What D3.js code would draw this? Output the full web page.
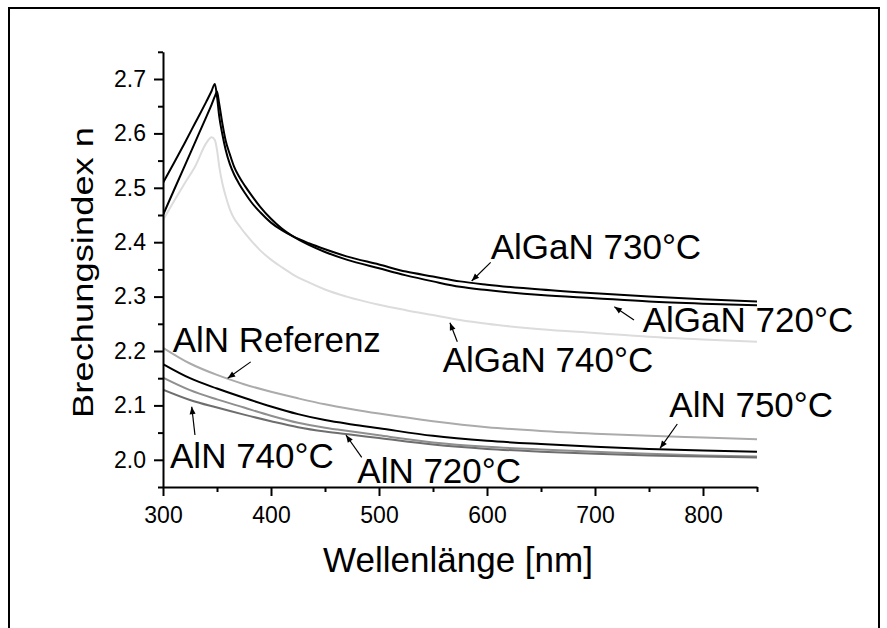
<!DOCTYPE html>
<html>
<head>
<meta charset="utf-8">
<script src="https://cdn.jsdelivr.net/npm/d3@7"></script>
<style>
  html, body { margin: 0; padding: 0; background: #fff; }
  svg { display: block; font-family: "Liberation Sans", Arial, sans-serif; }
</style>
</head>
<body>
<svg id="chart" width="887" height="628"></svg>
<script>
// Refractive index n vs. wavelength for AlGaN and AlN layers

// Wavelength grids [nm]
const wlAlGaN = [300, 310, 320, 330, 340, 345, 348, 350, 352, 355, 358, 362, 366, 370, 376, 382, 390,
                 400, 410, 420, 435, 450, 470, 500, 525, 550, 575, 600, 650, 700, 750, 800, 850];
const wlAlN = [300, 325, 350, 375, 400, 425, 450, 475, 500, 550, 600, 650, 700, 750, 800, 850];

// AlGaN layers
const nAlGaN730 = [2.509, 2.545, 2.582, 2.620, 2.658, 2.678, 2.691, 2.668, 2.632, 2.598, 2.570, 2.543, 2.524,
                   2.509, 2.490, 2.473, 2.455, 2.436, 2.422, 2.411, 2.398, 2.387, 2.374, 2.359, 2.346, 2.337,
                   2.328, 2.322, 2.313, 2.306, 2.300, 2.295, 2.291];
const nAlGaN720 = [2.450, 2.495, 2.540, 2.585, 2.630, 2.653, 2.668, 2.677, 2.655, 2.618, 2.587, 2.561, 2.538,
                   2.522, 2.503, 2.486, 2.465, 2.443, 2.425, 2.411, 2.395, 2.382, 2.368, 2.352, 2.339, 2.328,
                   2.318, 2.312, 2.303, 2.297, 2.291, 2.287, 2.284];
const nAlGaN740 = [2.441, 2.475, 2.508, 2.540, 2.582, 2.593, 2.588, 2.570, 2.540, 2.508, 2.485, 2.460, 2.443,
                   2.432, 2.416, 2.402, 2.385, 2.368, 2.354, 2.341, 2.326, 2.313, 2.300, 2.285, 2.275, 2.266,
                   2.257, 2.250, 2.240, 2.233, 2.226, 2.221, 2.217];

// AlN layers
const nAlNRef = [2.206, 2.177, 2.156, 2.139, 2.125, 2.113, 2.102, 2.093, 2.085, 2.071, 2.060, 2.053, 2.048, 2.044, 2.041, 2.038];
const nAlN750 = [2.176, 2.150, 2.131, 2.114, 2.098, 2.084, 2.073, 2.065, 2.058, 2.044, 2.035, 2.029, 2.024, 2.020, 2.017, 2.015];
const nAlN720 = [2.151, 2.128, 2.111, 2.096, 2.081, 2.068, 2.059, 2.052, 2.045, 2.032, 2.024, 2.019, 2.015, 2.011, 2.008, 2.006];
const nAlN740 = [2.129, 2.110, 2.096, 2.083, 2.071, 2.060, 2.052, 2.046, 2.040, 2.028, 2.020, 2.015, 2.011, 2.008, 2.006, 2.004];

// Axis ticks
const xMajorTicks = [300, 400, 500, 600, 700, 800];
const xMinorTicks = [350, 450, 550, 650, 750, 850];
const yMajorTicks = [2.0, 2.1, 2.2, 2.3, 2.4, 2.5, 2.6, 2.7];
const yMinorTicks = [1.95, 2.05, 2.15, 2.25, 2.35, 2.45, 2.55, 2.65, 2.75];

const xTitle = "Wellenlänge [nm]";
const yTitle = "Brechungsindex n";

const series = [
  { wl: wlAlN,   n: nAlNRef,   color: "#ababab", width: 2 },
  { wl: wlAlN,   n: nAlN720,   color: "#8f8f8f", width: 2 },
  { wl: wlAlN,   n: nAlN740,   color: "#6e6e6e", width: 2 },
  { wl: wlAlN,   n: nAlN750,   color: "#000000", width: 2 },
  { wl: wlAlGaN, n: nAlGaN740, color: "#dcdcdc", width: 2 },
  { wl: wlAlGaN, n: nAlGaN720, color: "#000000", width: 2 },
  { wl: wlAlGaN, n: nAlGaN730, color: "#000000", width: 2 }
];

// Curve labels with arrows, anchored in data coordinates
const labels = [
  { text: "AlGaN 730°C", at: [603.4, 2.3686], from: [603.4, 2.363],  to: [585.8, 2.3287] },
  { text: "AlGaN 720°C", at: [744.2, 2.2355], from: [736.1, 2.257],  to: [717.9, 2.2814] },
  { text: "AlGaN 740°C", at: [559.0, 2.1620], from: [572.5, 2.217],  to: [565.7, 2.252] },
  { text: "AlN Referenz", at: [309.0, 2.1987], from: [381.2, 2.180], to: [359.9, 2.1498] },
  { text: "AlN 740°C",   at: [306.5, 1.9844], from: [329.6, 2.0456], to: [326.6, 2.0976] },
  { text: "AlN 720°C",   at: [479.9, 1.9568], from: [484.0, 2.0046], to: [469.4, 2.0456] },
  { text: "AlN 750°C",   at: [768.8, 2.0780], from: [776.2, 2.0658], to: [760.2, 2.0211] }
];

const svg = d3.select("#chart");

// Outer frame
svg.append("rect")
  .attr("x", 9).attr("y", 8).attr("width", 870).attr("height", 660)
  .attr("fill", "none").attr("stroke", "#000").attr("stroke-width", 2);

const x = d3.scaleLinear().domain([300, 850]).range([163, 757]);
const y = d3.scaleLinear().domain([1.95, 2.75]).range([487, 51.8]);

// Clip curves to the plot area
svg.append("defs").append("clipPath").attr("id", "plotClip")
  .append("rect")
  .attr("x", x(300)).attr("y", y(2.75))
  .attr("width", x(850) - x(300)).attr("height", y(1.95) - y(2.75));

const line = d3.line().curve(d3.curveMonotoneX);

const curves = svg.append("g").attr("clip-path", "url(#plotClip)");
series.forEach(s => {
  curves.append("path")
    .attr("d", line(s.wl.map((w, i) => [x(w), y(s.n[i])])))
    .attr("fill", "none")
    .attr("stroke", s.color)
    .attr("stroke-width", s.width)
    .attr("stroke-linejoin", "round");
});

function styleAxis(g) {
  g.attr("font-size", 23).attr("font-family", "'Liberation Sans', Arial, sans-serif");
  g.selectAll("path, line").attr("stroke", "#000").attr("stroke-width", 2);
  g.selectAll("text")
    .attr("fill", "#000")
    .attr("font-size", 23);
}

// X axis: major ticks with labels, minor ticks without
const xAxisG = svg.append("g")
  .attr("transform", `translate(0,${y(1.95)})`);
xAxisG.call(d3.axisBottom(x).tickValues(xMajorTicks).tickFormat(d3.format("d"))
  .tickSize(9).tickSizeOuter(0).tickPadding(11));
xAxisG.append("g").call(d3.axisBottom(x).tickValues(xMinorTicks).tickFormat("")
  .tickSize(5).tickSizeOuter(0))
  .call(g => g.select(".domain").remove());
styleAxis(xAxisG);

// Y axis
const yAxisG = svg.append("g")
  .attr("transform", `translate(${x(300)},0)`);
yAxisG.call(d3.axisLeft(y).tickValues(yMajorTicks).tickFormat(d3.format(".1f"))
  .tickSize(9).tickSizeOuter(0).tickPadding(8));
yAxisG.append("g").call(d3.axisLeft(y).tickValues(yMinorTicks).tickFormat("")
  .tickSize(5).tickSizeOuter(0))
  .call(g => g.select(".domain").remove());
styleAxis(yAxisG);

// Axis titles
svg.append("text")
  .attr("x", (x(300) + x(850)) / 2 - 2)
  .attr("y", 572)
  .attr("text-anchor", "middle")
  .attr("font-size", 35)
  .attr("fill", "#000")
  .text(xTitle);

svg.append("text")
  .attr("transform", `translate(92.5,${(y(1.95) + y(2.75)) / 2 + 3}) rotate(-90)`)
  .attr("text-anchor", "middle")
  .attr("font-size", 29.5)
  .attr("textLength", 291)
  .attr("lengthAdjust", "spacingAndGlyphs")
  .attr("fill", "#000")
  .text(yTitle);

// Arrowhead marker
svg.select("defs").append("marker")
  .attr("id", "arrowHead")
  .attr("markerUnits", "userSpaceOnUse")
  .attr("viewBox", "-8 -4 9 8")
  .attr("refX", 0).attr("refY", 0)
  .attr("markerWidth", 9).attr("markerHeight", 8)
  .attr("orient", "auto")
  .append("path")
  .attr("d", "M0,0 L-7.5,-3 L-7.5,3 Z")
  .attr("fill", "#000");

const ann = svg.append("g");
labels.forEach(l => {
  ann.append("line")
    .attr("x1", x(l.from[0])).attr("y1", y(l.from[1]))
    .attr("x2", x(l.to[0])).attr("y2", y(l.to[1]))
    .attr("stroke", "#000").attr("stroke-width", 1.2)
    .attr("marker-end", "url(#arrowHead)");
  ann.append("text")
    .attr("x", x(l.at[0])).attr("y", y(l.at[1]))
    .attr("font-size", 35)
    .attr("fill", "#000")
    .text(l.text);
});
</script>
</body>
</html>
